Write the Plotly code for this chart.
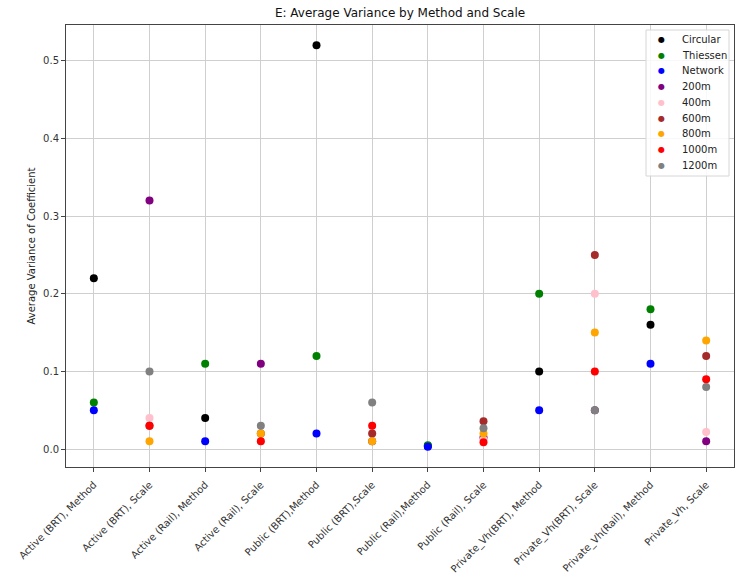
import plotly.graph_objects as go

# Categories along the x axis
categories = [
    "Active (BRT), Method", "Active (BRT), Scale",
    "Active (Rail), Method", "Active (Rail), Scale",
    "Public (BRT),Method", "Public (BRT),Scale",
    "Public (Rail),Method", "Public (Rail), Scale",
    "Private_Vh(BRT), Method", "Private_Vh(BRT), Scale",
    "Private_Vh(Rail), Method", "Private_Vh, Scale",
]

# Method series (only defined on the "Method" categories)
circular = [0.22, None, 0.04, None, 0.52, None, 0.004, None, 0.10, None, 0.16, None]
thiessen = [0.06, None, 0.11, None, 0.12, None, 0.005, None, 0.20, None, 0.18, None]
network = [0.05, None, 0.01, None, 0.02, None, 0.003, None, 0.05, None, 0.11, None]

# Scale series (only defined on the "Scale" categories)
m200 = [None, 0.32, None, 0.11, None, 0.01, None, 0.015, None, 0.05, None, 0.01]
m400 = [None, 0.04, None, 0.01, None, 0.02, None, 0.012, None, 0.20, None, 0.022]
m600 = [None, 0.03, None, 0.02, None, 0.02, None, 0.036, None, 0.25, None, 0.12]
m800 = [None, 0.01, None, 0.02, None, 0.01, None, 0.02, None, 0.15, None, 0.14]
m1000 = [None, 0.03, None, 0.01, None, 0.03, None, 0.009, None, 0.10, None, 0.09]
m1200 = [None, 0.10, None, 0.03, None, 0.06, None, 0.027, None, 0.05, None, 0.08]

series_names = ["Circular", "Thiessen", "Network", "200m", "400m",
                "600m", "800m", "1000m", "1200m"]
series_values = [circular, thiessen, network, m200, m400, m600, m800, m1000, m1200]
series_colors = ["black", "green", "blue", "purple", "pink",
                 "brown", "orange", "red", "gray"]

fig = go.Figure()
for name, vals, color in zip(series_names, series_values, series_colors):
    fig.add_trace(go.Scatter(
        x=categories, y=vals, mode="markers", name=name, showlegend=False,
        marker=dict(color=color, size=8, line=dict(width=0)),
    ))

# Compact legend box in the upper-right corner of the plot area
W, H = 735, 575
ML, MR, MT, MB = 66, 1, 25, 108
PW, PH = W - ML - MR, H - MT - MB


def px_x(p):
    return (p - ML) / PW


def px_y(p):
    return (H - MB - p) / PH


fig.add_shape(type="rect", xref="paper", yref="paper",
              x0=px_x(646), x1=px_x(729), y0=px_y(176), y1=px_y(30),
              line=dict(color="#d6d6d6", width=1),
              fillcolor="rgba(255,255,255,0.85)", layer="above")
for i, (name, color) in enumerate(zip(series_names, series_colors)):
    yy = px_y(39.5 + i * 15.7)
    fig.add_annotation(xref="paper", yref="paper", x=px_x(661), y=yy,
                       text="●", showarrow=False, xanchor="center", yanchor="middle",
                       font=dict(size=8, color=color))
    fig.add_annotation(xref="paper", yref="paper", x=px_x(680), y=yy,
                       text=name, showarrow=False, xanchor="left", yanchor="middle",
                       font=dict(size=10, color="#222"))

font = "DejaVu Sans, Verdana, sans-serif"
fig.update_layout(
    width=W, height=H,
    margin=dict(l=ML, r=MR, t=MT, b=MB, autoexpand=False),
    paper_bgcolor="white", plot_bgcolor="white",
    font=dict(family=font, size=10, color="#222"),
    title=dict(text="E: Average Variance by Method and Scale",
               x=(ML + PW / 2) / W, xanchor="center",
               y=1 - 13 / H, yanchor="middle",
               font=dict(size=12, color="#111")),
    showlegend=False,
)
fig.update_xaxes(
    type="category", range=[-0.5, 11.5], tickangle=-45, automargin=False,
    showgrid=True, gridcolor="#cfcfcf", gridwidth=1,
    showline=True, linecolor="#444", linewidth=1, mirror=True,
    ticks="outside", ticklen=4, tickcolor="#444",
    tickfont=dict(size=10, color="#333"), ticklabelstandoff=3,
)
fig.update_yaxes(
    range=[-0.023, 0.546], tickvals=[0.0, 0.1, 0.2, 0.3, 0.4, 0.5],
    ticktext=["0.0", "0.1", "0.2", "0.3", "0.4", "0.5"], automargin=False,
    showgrid=True, gridcolor="#cfcfcf", gridwidth=1, zeroline=False,
    showline=True, linecolor="#444", linewidth=1, mirror=True,
    ticks="outside", ticklen=4, tickcolor="#444",
    tickfont=dict(size=10, color="#333"),
    title=dict(text="Average Variance of Coefficient", font=dict(size=10, color="#222"),
               standoff=5),
)

fig.write_html("out.html")
